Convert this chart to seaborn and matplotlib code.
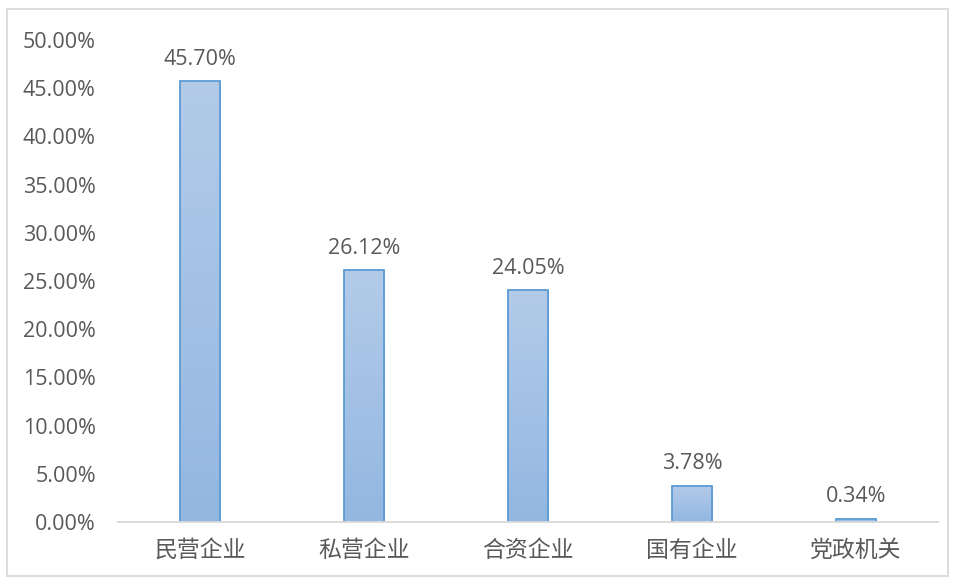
import numpy as np
import pandas as pd
import matplotlib
matplotlib.use('Agg')
import matplotlib.pyplot as plt
import seaborn as sns
from matplotlib.patches import Rectangle
from matplotlib.colors import LinearSegmentedColormap
from matplotlib.ticker import FuncFormatter

# данные
categories = ['民营企业', '私营企业', '合资企业', '国有企业', '党政机关']
shares = [0.4570, 0.2612, 0.2405, 0.0378, 0.0034]
labels = ['45.70%', '26.12%', '24.05%', '3.78%', '0.34%']

df = pd.DataFrame({'type': categories, 'share': shares})

sns.set_theme(style='white')
plt.rcParams['font.family'] = ['Noto Sans CJK SC', 'DejaVu Sans']
num_font = ['Open Sans', 'DejaVu Sans']

fig = plt.figure(figsize=(9.54, 5.79), dpi=100)
ax = fig.add_axes([118 / 954, 1 - 522 / 579, 820 / 954, (522 - 40) / 579])

sns.barplot(data=df, x='type', y='share', ax=ax, width=0.245,
            color='#a4c2e6', edgecolor='#5b9bd5', linewidth=1.3, zorder=3)

# градиент внутри столбцов
cmap = LinearSegmentedColormap.from_list('g', ['#93b7e1', '#b3cbe9'])
grad = np.linspace(0, 1, 256).reshape(-1, 1)
for bar in ax.patches:
    x0, y0 = bar.get_x(), bar.get_y()
    w, h = bar.get_width(), bar.get_height()
    im = ax.imshow(grad, cmap=cmap, aspect='auto', origin='lower',
                   extent=[x0, x0 + w, y0, y0 + h], zorder=2)
    im.set_clip_path(bar)
    bar.set_facecolor('none')

ax.set_xlim(-0.5, 4.5)
ax.set_ylim(0, 0.5)
ax.set_yticks(np.arange(0, 0.51, 0.05))
ax.yaxis.set_major_formatter(FuncFormatter(lambda v, p: f'{v * 100:.2f}%'))

for i, (v, t) in enumerate(zip(shares, labels)):
    ax.text(i, v + 0.012, t, ha='center', va='bottom', fontsize=15.5,
            color='#595959', family=num_font, clip_on=False)

ax.set_xlabel('')
ax.set_ylabel('')
ax.tick_params(axis='y', labelsize=15.5, labelcolor='#595959', length=0, pad=16)
ax.tick_params(axis='x', labelsize=16.5, labelcolor='#595959', length=0, pad=12)
for t in ax.get_yticklabels():
    t.set_family(num_font)

for s in ['top', 'right', 'left']:
    ax.spines[s].set_visible(False)
ax.spines['bottom'].set_color('#d9d9d9')
ax.spines['bottom'].set_linewidth(1.3)
ax.spines['bottom'].set_zorder(4)
ax.grid(False)

# рамка вокруг всей диаграммы
fig.patches.append(Rectangle((7 / 954, 1 - 576 / 579), 941 / 954, 567 / 579,
                             transform=fig.transFigure, fill=False,
                             edgecolor='#d9d9d9', linewidth=1.3))

fig.savefig('out.png', dpi=100)
